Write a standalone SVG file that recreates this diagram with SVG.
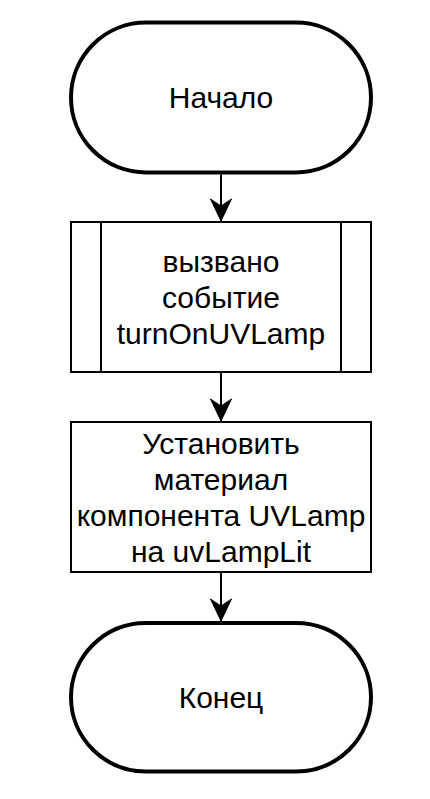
<svg xmlns="http://www.w3.org/2000/svg" width="430" height="799" viewBox="0 0 430 799">
<style>
.term{fill:#fff;stroke:#000;stroke-width:4}
.box{fill:#fff;stroke:#000;stroke-width:2}
.lbl{font-family:"Liberation Sans",Arial,sans-serif;font-size:30px;fill:#000;text-anchor:middle}
.edge{fill:none;stroke:#000;stroke-width:2}
</style>
<defs>
<marker id="arr" markerUnits="userSpaceOnUse" markerWidth="24" markerHeight="24" viewBox="-1 -12 24 24" refX="22" refY="0" orient="auto">
<path d="M22,0 L0,-10.5 L7,0 L0,10.5 Z" fill="#000" stroke="#000" stroke-width="1"/>
</marker>
</defs>
<rect width="430" height="799" fill="#fff"/>
<g id="connectors">
<path class="edge" d="M221,174.5 L221,221" marker-end="url(#arr)"/>
<path class="edge" d="M221,373 L221,421" marker-end="url(#arr)"/>
<path class="edge" d="M221,573 L221,621" marker-end="url(#arr)"/>
</g>
<g id="start">
<rect class="term" x="71" y="22.5" width="300" height="150" rx="75" ry="75"/>
<text class="lbl" x="221" y="108">Начало</text>
</g>
<g id="event">
<rect class="box" x="71" y="222" width="300" height="150"/>
<line class="box" x1="101" y1="222" x2="101" y2="372"/>
<line class="box" x1="341" y1="222" x2="341" y2="372"/>
<text class="lbl" x="221" y="272">вызвано</text>
<text class="lbl" x="221" y="308">событие</text>
<text class="lbl" x="221" y="344">turnOnUVLamp</text>
</g>
<g id="setMaterial">
<rect class="box" x="71" y="422" width="300" height="150"/>
<text class="lbl" x="221" y="454">Установить</text>
<text class="lbl" x="221" y="490">материал</text>
<text class="lbl" x="221" y="526">компонента UVLamp</text>
<text class="lbl" x="221" y="562">на uvLampLit</text>
</g>
<g id="end">
<rect class="term" x="71" y="623" width="300" height="148.5" rx="75" ry="74.25"/>
<text class="lbl" x="221" y="708">Конец</text>
</g>
</svg>
